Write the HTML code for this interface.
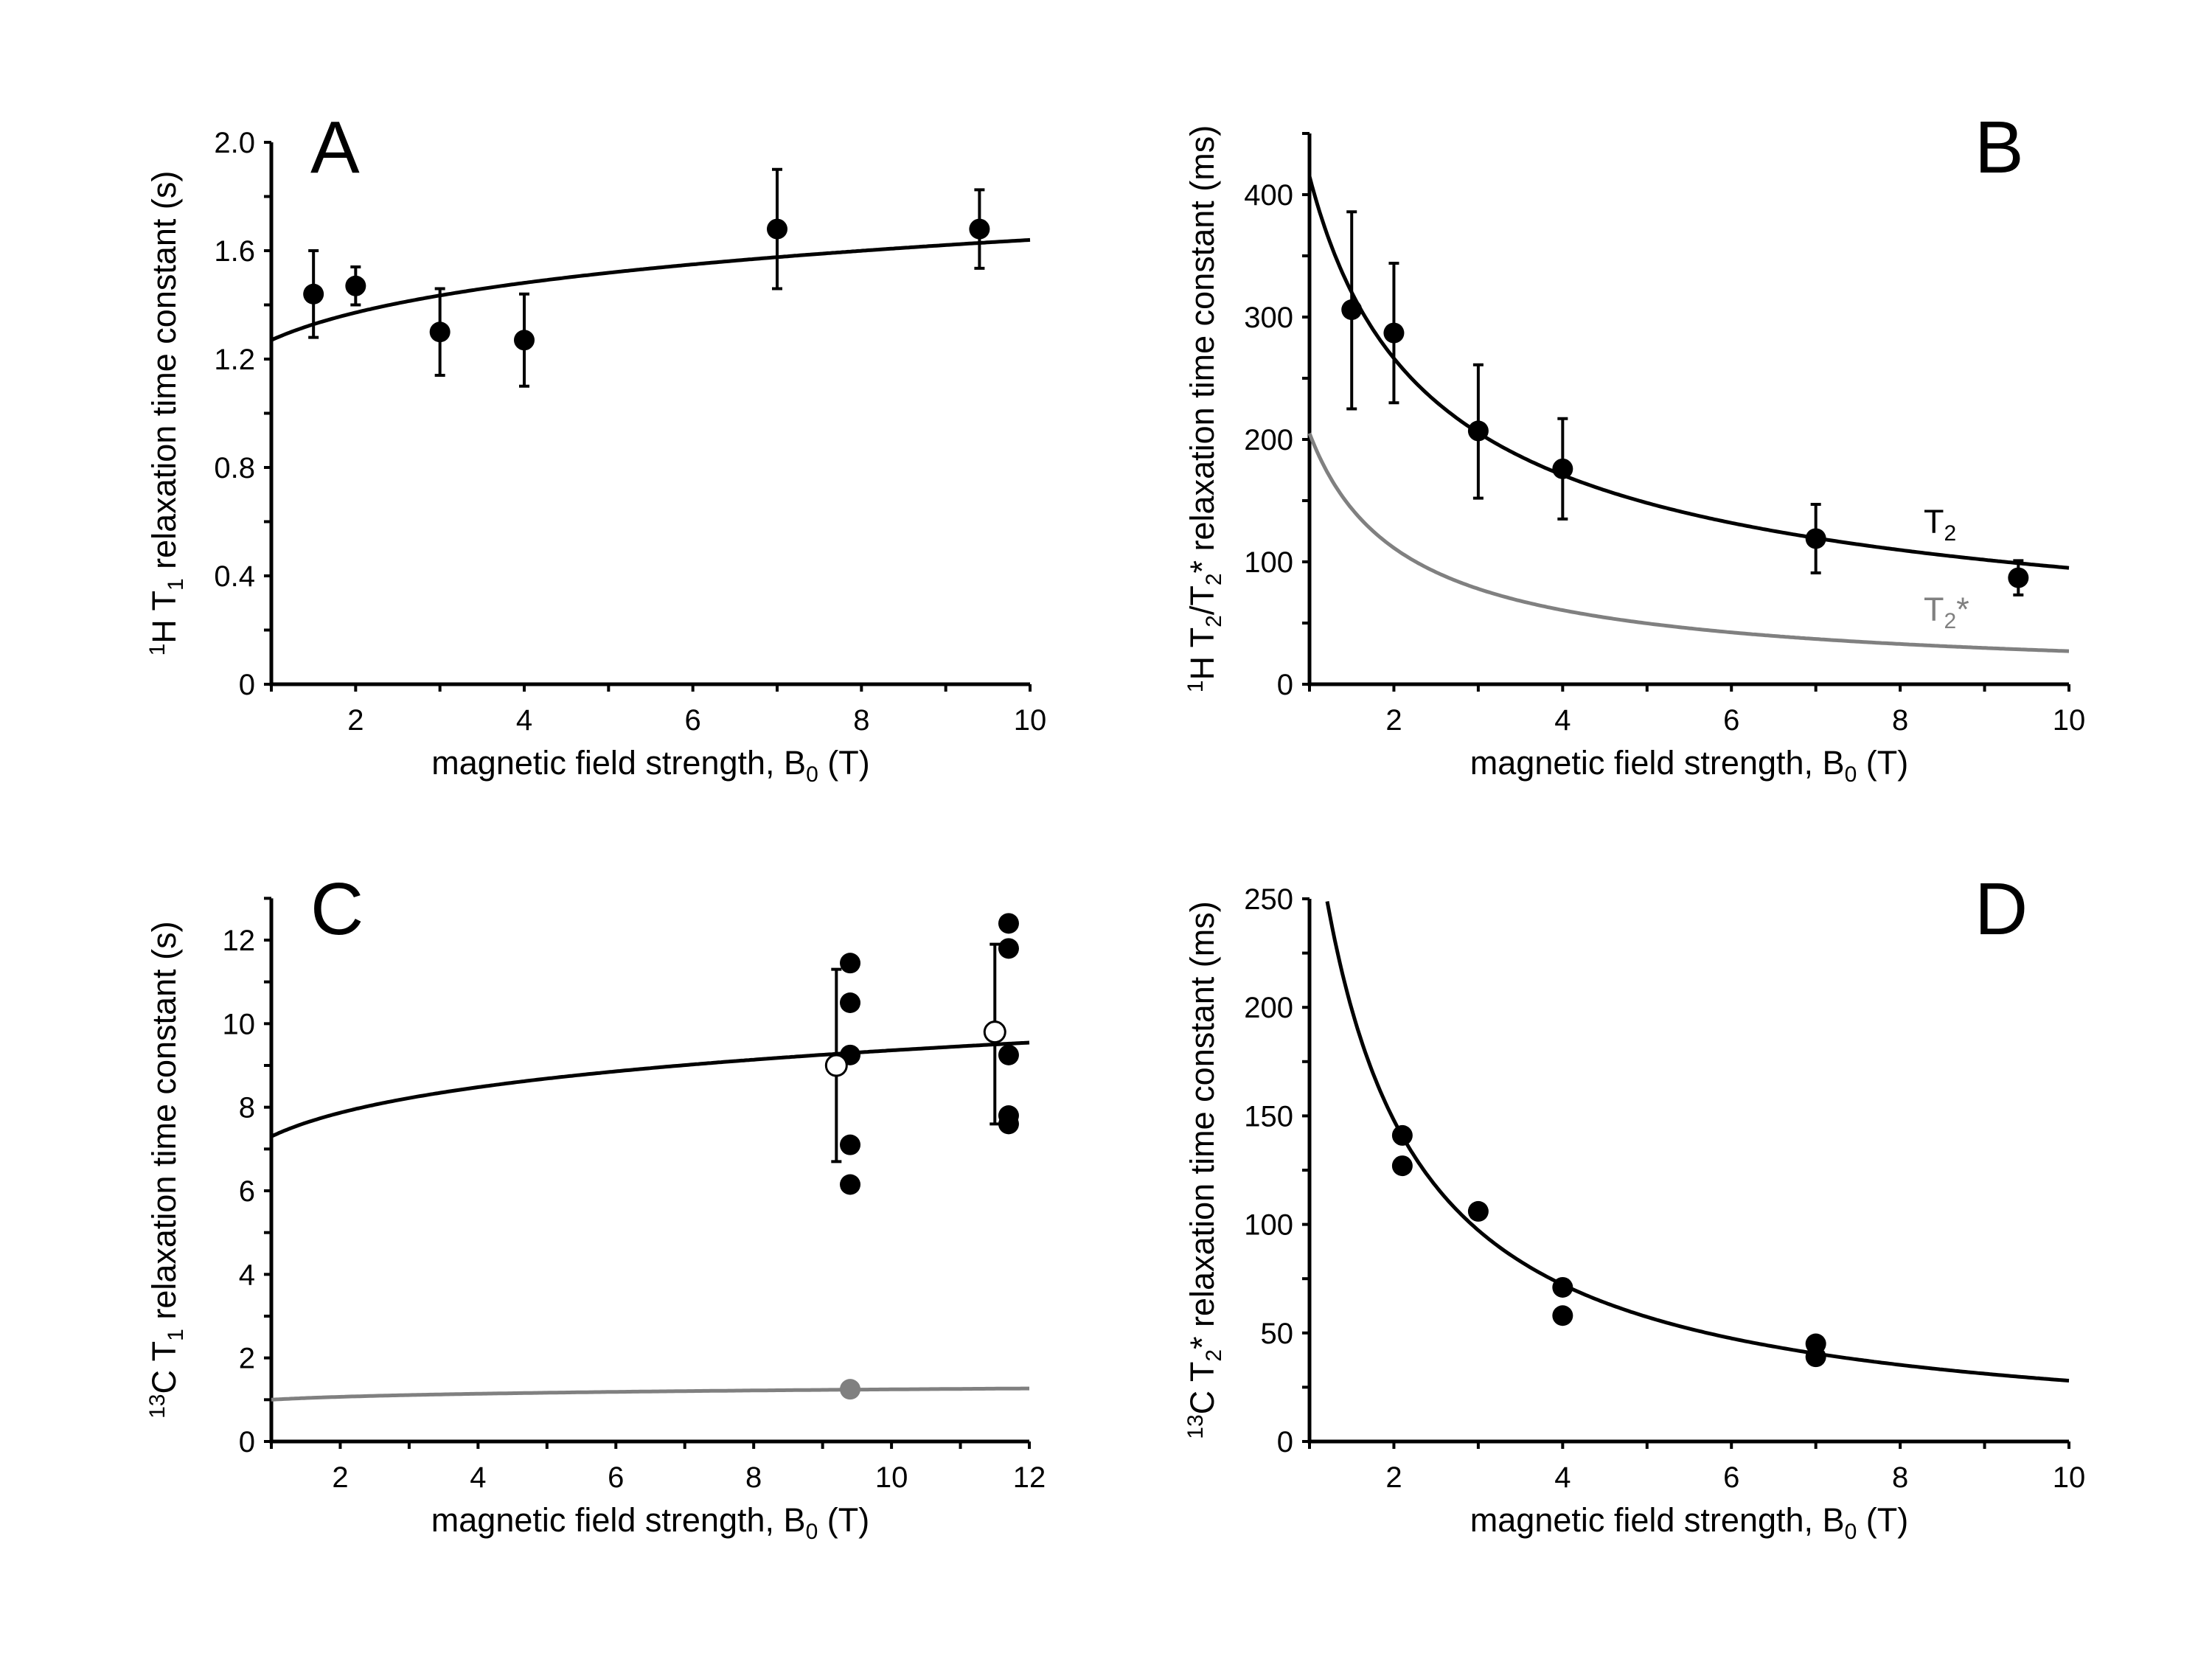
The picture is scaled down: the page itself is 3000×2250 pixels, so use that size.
<!DOCTYPE html>
<html><head><meta charset="utf-8">
<style>
html,body{margin:0;padding:0;background:#fff;}
svg{display:block;font-family:"Liberation Sans",Arial,sans-serif;}
</style></head>
<body>
<svg id="fig" width="3000" height="2250" viewBox="0 0 3000 2250" xmlns="http://www.w3.org/2000/svg"></svg>
<script>
// Panel A data
const aX = [1.5, 2, 3, 4, 7, 9.4];
const aY = [1.44, 1.47, 1.30, 1.27, 1.68, 1.68];
const aErr = [0.16, 0.07, 0.16, 0.17, 0.22, 0.145];
const aFit = [1.27, 0.111];
// Panel B data
const bX = [1.5, 2, 3, 4, 7, 9.4];
const bY = [306, 287, 207, 176, 119, 87];
const bLo = [225, 230, 152, 135, 91, 73];
const bHi = [386, 344, 261, 217, 147, 101];
const bFitT2 = [415, -0.64];
const bFitT2s = [205, -0.88];
// Panel C data
const cX1 = [9.4, 9.4, 9.4, 9.4, 9.4];
const cY1 = [11.45, 10.5, 9.25, 7.1, 6.15];
const cX2 = [11.7, 11.7, 11.7, 11.7, 11.7];
const cY2 = [12.4, 11.8, 9.25, 7.8, 7.6];
const cMeanX = [9.2, 11.5];
const cMeanY = [9.0, 9.8];
const cMeanLo = [6.7, 7.6];
const cMeanHi = [11.3, 11.9];
const cGrayX = [9.4];
const cGrayY = [1.25];
const cFitBlack = [7.3, 0.108];
const cFitGray = [1.0, 0.096];
// Panel D data
const dX = [2.1, 2.1, 3, 4, 4, 7, 7];
const dY = [141, 127, 106, 71, 58, 45, 39];
const dFit = [303, -1.034];

const NS = "http://www.w3.org/2000/svg";
const svg = document.getElementById('fig');
function el(tag, attrs, parent, text){
  const e = document.createElementNS(NS, tag);
  for (const k in attrs) e.setAttribute(k, attrs[k]);
  if (text !== undefined) e.textContent = text;
  (parent || svg).appendChild(e);
  return e;
}
function panel(p){
  const g = el('g', {});
  
  
  const sx = v => p.x0 + (v - p.xmin) / (p.xmax - p.xmin) * (p.x1 - p.x0);
  const sy = v => p.y0 - (v - p.ymin) / (p.ymax - p.ymin) * (p.y0 - p.y1);
  const yTop = sy(p.yAxisTop);
  const ax = el('path', {d:`M${p.x0},${yTop} L${p.x0},${p.y0} L${p.x1},${p.y0}`, fill:'none', stroke:'#000', 'stroke-width':5}, g);
  
  
  for (let v = p.ymin; v <= p.yAxisTop + 1e-9; v += p.yMinor){
    const y = sy(v);
    el('line', {x1:p.x0-10, x2:p.x0, y1:y, y2:y, stroke:'#000', 'stroke-width':4}, g);
  }
  p.yLabels.forEach(v => {
    const t = el('text', {x:p.x0-22, y:sy(v)+14, 'font-size':40, 'text-anchor':'end'}, g, p.yFmt(v));
    
    
  });
  for (let v = Math.ceil(p.xmin); v <= p.xmax; v += 1){
    const x = sx(v);
    el('line', {x1:x, x2:x, y1:p.y0, y2:p.y0+10, stroke:'#000', 'stroke-width':4}, g);
  }
  p.xLabels.forEach(v => {
    const t = el('text', {x:sx(v), y:p.y0+62, 'font-size':40, 'text-anchor':'middle'}, g, String(v));
    
    
  });
  const xt = el('text', {x:(p.x0+p.x1)/2, y:p.y0+122, 'font-size':45, 'text-anchor':'middle'}, g);
  
  
  xt.innerHTML = 'magnetic field strength, B<tspan font-size="30" dy="10">0</tspan><tspan dy="-10"> (T)</tspan>';
  const yt = el('text', {transform:`translate(${p.x0-130},${(p.y0+yTop)/2}) rotate(-90)`, 'font-size':45, 'text-anchor':'middle'}, g);
  
  
  yt.innerHTML = p.yTitle;
  const lt = el('text', {x:p.letterX, y:p.letterY, 'font-size':100}, g, p.letter);
  
  
  return {g, sx, sy};
}
function fitCurve(P, params, from, to, color, name){
  let d = '';
  for (let i = 0; i <= 300; i++){
    const x = from + (to - from) * i / 300;
    let y = params[0] * Math.pow(x, params[1]);
    let py = P.sy(y);
    if (py < P.clipTop) continue;
    d += (d ? 'L' : 'M') + P.sx(x).toFixed(1) + ',' + py.toFixed(1);
  }
  const c = el('path', {d, fill:'none', stroke:color, 'stroke-width':5}, P.g);
  
  
}
function errBar(P, x, lo, hi){
  const X = P.sx(x), a = P.sy(lo), b = P.sy(hi);
  const e = el('path', {d:`M${X},${a} L${X},${b} M${X-7},${a} L${X+7},${a} M${X-7},${b} L${X+7},${b}`, stroke:'#000', 'stroke-width':4, fill:'none'}, P.g);
  
  
}
function dot(P, x, y, fill, stroke){
  const c = el('circle', {cx:P.sx(x), cy:P.sy(y), r:14, fill, stroke:stroke||'none', 'stroke-width':3}, P.g);
  
  
}

const A = panel({name:'panel-a', x0:368, x1:1397, y0:928, y1:193, xmin:1, xmax:10, ymin:0, ymax:2.0, yAxisTop:2.0, yMinor:0.2,
  yLabels:[0,0.4,0.8,1.2,1.6,2.0], yFmt:v=> v===0?'0':v.toFixed(1), xLabels:[2,4,6,8,10],
  yTitle:'<tspan font-size="30" dy="-15">1</tspan><tspan dy="15">H T</tspan><tspan font-size="30" dy="10">1</tspan><tspan dy="-10"> relaxation time constant (s)</tspan>',
  letter:'A', letterX:421, letterY:234});
A.clipTop = 0;
fitCurve(A, aFit, 1, 10, '#000', 'fit-curve-t1');
aX.forEach((x,i)=>{ errBar(A, x, aY[i]-aErr[i], aY[i]+aErr[i]); dot(A, x, aY[i], '#000'); });

const B = panel({name:'panel-b', x0:1776, x1:2806, y0:928, y1:264, xmin:1, xmax:10, ymin:0, ymax:400, yAxisTop:450, yMinor:50,
  yLabels:[0,100,200,300,400], yFmt:v=>String(v), xLabels:[2,4,6,8,10],
  yTitle:'<tspan font-size="30" dy="-15">1</tspan><tspan dy="15">H T</tspan><tspan font-size="30" dy="10">2</tspan><tspan dy="-10">/T</tspan><tspan font-size="30" dy="10">2</tspan><tspan dy="-10">* relaxation time constant (ms)</tspan>',
  letter:'B', letterX:2678, letterY:234});
B.clipTop = 0;
fitCurve(B, bFitT2s, 1, 10, '#808080', 'fit-curve-t2star');
fitCurve(B, bFitT2, 1, 10, '#000', 'fit-curve-t2');
bX.forEach((x,i)=>{ errBar(B, x, bLo[i], bHi[i]); dot(B, x, bY[i], '#000'); });
const l1 = el('text', {x:2609, y:723, 'font-size':45}, B.g);


l1.innerHTML = 'T<tspan font-size="30" dy="10">2</tspan>';
const l2 = el('text', {x:2609, y:842, 'font-size':45, fill:'#808080'}, B.g);


l2.innerHTML = 'T<tspan font-size="30" dy="10">2</tspan><tspan dy="-10">*</tspan>';

const C = panel({name:'panel-c', x0:368, x1:1396, y0:1955, y1:1275, xmin:1, xmax:12, ymin:0, ymax:12, yAxisTop:13, yMinor:1,
  yLabels:[0,2,4,6,8,10,12], yFmt:v=>String(v), xLabels:[2,4,6,8,10,12],
  yTitle:'<tspan font-size="30" dy="-15">13</tspan><tspan dy="15">C T</tspan><tspan font-size="30" dy="10">1</tspan><tspan dy="-10"> relaxation time constant (s)</tspan>',
  letter:'C', letterX:421, letterY:1267});
C.clipTop = 0;
fitCurve(C, cFitGray, 1, 12, '#808080', 'fit-curve-hyperpolarized');
fitCurve(C, cFitBlack, 1, 12, '#000', 'fit-curve-thermal');
cX1.forEach((x,i)=>dot(C, x, cY1[i], '#000'));
cX2.forEach((x,i)=>dot(C, x, cY2[i], '#000'));
cMeanX.forEach((x,i)=>{ errBar(C, x, cMeanLo[i], cMeanHi[i]); dot(C, x, cMeanY[i], '#fff', '#000'); });
cGrayX.forEach((x,i)=>dot(C, x, cGrayY[i], '#808080'));

const D = panel({name:'panel-d', x0:1776, x1:2806, y0:1955, y1:1219, xmin:1, xmax:10, ymin:0, ymax:250, yAxisTop:250, yMinor:25,
  yLabels:[0,50,100,150,200,250], yFmt:v=>String(v), xLabels:[2,4,6,8,10],
  yTitle:'<tspan font-size="30" dy="-15">13</tspan><tspan dy="15">C T</tspan><tspan font-size="30" dy="10">2</tspan><tspan dy="-10">* relaxation time constant (ms)</tspan>',
  letter:'D', letterX:2678, letterY:1267});
D.clipTop = 1219;
fitCurve(D, dFit, 1.0, 10, '#000', 'fit-curve-t2star-13c');
dX.forEach((x,i)=>dot(D, x, dY[i], '#000'));
</script>
</body></html>
